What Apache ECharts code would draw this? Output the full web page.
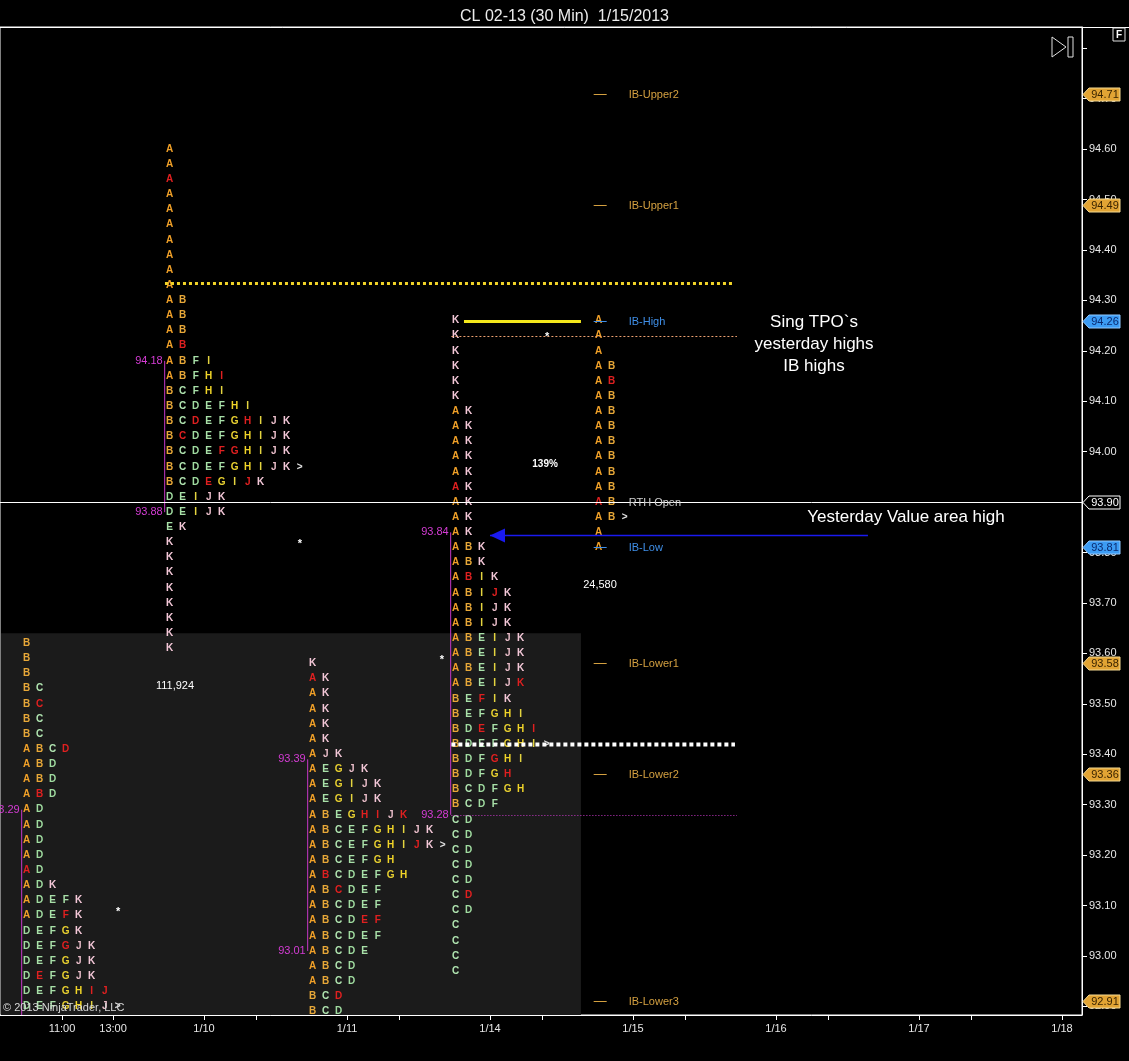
<!DOCTYPE html>
<html lang="en">
<head>
    <meta charset="UTF-8">
    <title>CL 02-13 (30 Min) 1/15/2013</title>
    <style>
        html, body { margin: 0; padding: 0; background: #000; }
    </style>
</head>
<body>
<div id="main" style="width: 1129px;height:1061px;"></div>

<script src="https://cdn.jsdelivr.net/npm/echarts@6/dist/echarts.min.js"></script>
<script>
    // x is in session (day) units, 1/10 = 0; y is price
    var xMin = -1.4266, xMax = 6.1399;
    var yMin = 92.883, yMax = 94.842;
    var tpoSize = 0.03;

    // market profiles: one string per price row, top row first. lowercase = red letter
    var sessionX = [-1.24, -0.24, 0.76, 1.76, 2.76];
    var sessionTop = [93.62, 94.60, 93.58, 94.26, 94.26];
    var profile19 = ['B', 'B', 'B', 'BC', 'Bc', 'BC', 'BC', 'ABCd', 'ABD', 'ABD', 'AbD', 'AD', 'AD', 'AD', 'AD', 'aD',
        'ADK', 'ADEFK', 'ADEfK', 'DEFGK', 'DEFgJK', 'DEFGJK', 'DeFGJK', 'DEFGHij', 'DEFGHIJ>'];
    var profile110 = ['A', 'A', 'a', 'A', 'A', 'A', 'A', 'A', 'A', 'A', 'AB', 'AB', 'AB', 'Ab', 'ABFI', 'ABFHi', 'BCFHI',
        'BCDEFHI', 'BCdEFGhIJK', 'BcDEFGHIJK', 'BCDEfgHIJK', 'BCDEFGHIJK>', 'BCDeGIjK', 'DEIJK', 'DEIJK', 'EK',
        'K', 'K', 'K', 'K', 'K', 'K', 'K', 'K'];
    var profile111 = ['K', 'aK', 'AK', 'AK', 'AK', 'AK', 'AJK', 'AEGJK', 'AEGIJK', 'AEGIJK', 'ABEGhiJk', 'ABCEFGHIJK',
        'ABCEFGHIjK>', 'ABCEFGH', 'AbCDEFGH', 'ABcDEF', 'ABCDEF', 'ABCDef', 'ABCDEF', 'ABCDE', 'ABCD', 'ABCD', 'BCd', 'BCD'];
    var profile114 = ['K', 'K', 'K', 'K', 'K', 'K', 'AK', 'AK', 'AK', 'AK', 'AK', 'aK', 'AK', 'AK', 'AK', 'ABK', 'ABK',
        'AbIK', 'ABIjK', 'ABIJK', 'ABIJK', 'ABEIJK', 'ABEIJK', 'ABEIJK', 'ABEIJk', 'BEfIK', 'BEFGHI', 'BDeFGHi',
        'BDEFGHI>', 'BDFgHI', 'BDFGh', 'BCDFGH', 'BCDF', 'CD', 'CD', 'CD', 'CD', 'CD', 'Cd', 'CD', 'C', 'C', 'C', 'C'];
    var profile115 = ['A', 'A', 'A', 'AB', 'Ab', 'AB', 'AB', 'AB', 'AB', 'AB', 'AB', 'AB', 'aB', 'AB>', 'A', 'A'];
    var profiles = [profile19, profile110, profile111, profile114, profile115];

    // value areas (high, low) per session
    var vaHigh = [93.29, 94.18, 93.39, 93.84];
    var vaLow = [yMin, 93.88, 93.01, 93.28];

    // initial balance levels of 1/15
    var ibNames = ['IB-Upper2', 'IB-Upper1', 'IB-High', 'RTH Open', 'IB-Low', 'IB-Lower1', 'IB-Lower2', 'IB-Lower3'];
    var ibPrices = [94.71, 94.49, 94.26, 93.90, 93.81, 93.58, 93.36, 92.91];
    var ibKinds = ['ib', 'ib', 'ibhl', 'open', 'ibhl', 'ib', 'ib', 'ib'];

    // reference lines
    var levelPrice = [94.335, 93.42, 94.23, 93.28, 94.26, 93.90, 93.835];
    var levelFrom = [-0.273, 1.73, 1.73, 1.73, 1.818, xMin, 2.0];
    var levelTo = [3.713, 3.713, 3.727, 3.727, 2.636, xMax, 4.643];
    var levelKind = ['yellowDot', 'whiteDot', 'peachDot', 'vaDot', 'yellowBar', 'rthOpen', 'blueArrow'];

    // overnight shading
    var shadeX = [xMin, 2.636];
    var shadeY = [93.64, yMin];

    // notes
    var noteText = ['Sing TPO`s\nyesterday highs\nIB highs', 'Yesterday Value area high', '139%', '24,580', '111,924', '*', '*', '*', '*'];
    var noteX = [4.266, 4.909, 2.385, 2.769, -0.203, 0.671, 1.664, -0.601, 2.399];
    var notePrice = [94.213, 93.870, 93.975, 93.736, 93.535, 93.817, 93.587, 93.087, 94.228];
    var noteKind = ['big', 'big', 'bold', 'small', 'small', 'star', 'star', 'star', 'star'];

    // axes
    var priceTicks = [92.9, 93.0, 93.1, 93.2, 93.3, 93.4, 93.5, 93.6, 93.7, 93.8, 93.9, 94.0, 94.1, 94.2, 94.3, 94.4, 94.5, 94.6, 94.7, 94.8];
    var priceLabels = [92.9, 93.0, 93.1, 93.2, 93.3, 93.4, 93.5, 93.6, 93.7, 93.8, 93.9, 94.0, 94.1, 94.2, 94.3, 94.4, 94.5, 94.6, 94.7];
    var timeTicks = [-0.993, -0.636, 0, 0.364, 1, 1.364, 2, 2.364, 3, 3.364, 4, 4.364, 5, 5.364, 6];
    var timeLabelPos = [-0.993, -0.636, 0, 1, 2, 3, 4, 5, 6];
    var timeLabelText = ['11:00', '13:00', '1/10', '1/11', '1/14', '1/15', '1/16', '1/17', '1/18'];

    var FONT = 'Arial, "Liberation Sans", sans-serif';
    var COL_W = 13;
    var RED = '#e02020';
    var letterColor = {
        A: '#f0a028', B: '#e8a838', C: '#b0e4b0', D: '#a0dca0', E: '#a8e0a8', F: '#a8e0a8',
        G: '#e8d030', H: '#f0d428', I: '#e4d440', J: '#e8bcc8', K: '#f4c8d8', '>': '#e0e0e0'
    };
    var tagStyle = {
        ib: {fill: '#e2a434', stroke: '#f4d890', text: '#3a2400'},
        ibhl: {fill: '#3c9cf4', stroke: '#90c8ff', text: '#0a2a70'},
        open: {fill: '#000', stroke: '#fff', text: '#fff'}
    };
    var ibColor = {ib: '#d4a040', ibhl: '#3f8fe8', open: '#d0d0d0'};

    var profileData = [];
    profiles.forEach(function (rows, s) {
        rows.forEach(function (row, r) {
            profileData.push([sessionX[s], sessionTop[s] - r * tpoSize, s, r]);
        });
    });

    var chart = echarts.init(document.getElementById('main'));
    chart.setOption({
        backgroundColor: '#000',
        animation: false,
        title: {
            text: 'CL 02-13 (30 Min)  1/15/2013',
            left: 'center',
            top: 4,
            textStyle: {color: '#ececec', fontSize: 16, fontWeight: 'normal', fontFamily: FONT}
        },
        grid: {left: 0, right: 47, top: 27, bottom: 46, show: true, borderColor: '#fff', borderWidth: 1},
        xAxis: {
            type: 'value', min: xMin, max: xMax,
            splitLine: {show: false},
            axisLine: {show: true, onZero: false, lineStyle: {color: '#fff'}},
            axisTick: {show: true, length: 5, lineStyle: {color: '#fff'}, customValues: timeTicks},
            axisLabel: {
                color: '#e8e8e8', fontSize: 11, fontFamily: FONT, margin: 8,
                customValues: timeLabelPos,
                formatter: function (v) {
                    for (var i = 0; i < timeLabelPos.length; i++) {
                        if (Math.abs(timeLabelPos[i] - v) < 1e-6) return timeLabelText[i];
                    }
                    return '';
                }
            }
        },
        yAxis: {
            type: 'value', position: 'right', min: yMin, max: yMax,
            splitLine: {show: false},
            axisLine: {show: true, onZero: false, lineStyle: {color: '#fff'}},
            axisTick: {show: true, length: 5, lineStyle: {color: '#fff'}, customValues: priceTicks},
            axisLabel: {
                color: '#e8e8e8', fontSize: 11, fontFamily: FONT, margin: 7,
                customValues: priceLabels,
                formatter: function (v) { return v.toFixed(2); }
            }
        },
        graphic: [
            {type: 'line', shape: {x1: 0, y1: 27.5, x2: 1129, y2: 27.5}, style: {stroke: '#fff', lineWidth: 1}},
            {type: 'polygon', shape: {points: [[1052, 37], [1066, 47], [1052, 57]]}, style: {fill: 'none', stroke: '#e0e0e0', lineWidth: 1}},
            {type: 'rect', shape: {x: 1068, y: 37, width: 5, height: 20}, style: {fill: 'none', stroke: '#e0e0e0', lineWidth: 1}},
            {type: 'rect', shape: {x: 1113, y: 28, width: 12, height: 13}, style: {fill: '#000', stroke: '#e0e0e0', lineWidth: 1}},
            {type: 'text', x: 1119, y: 35, style: {text: 'F', fill: '#fff', font: 'bold 10px ' + FONT, align: 'center', verticalAlign: 'middle'}},
            {type: 'text', x: 3, y: 1008, z: 100, style: {text: '\u00a9 2013 NinjaTrader, LLC', fill: '#d8d8d8', font: '11px ' + FONT, verticalAlign: 'middle'}}
        ],
        series: [
            {
                // overnight shading
                type: 'custom', z: 1, silent: true,
                data: [[shadeX[0], shadeY[0], shadeX[1], shadeY[1]]],
                renderItem: function (params, api) {
                    var a = api.coord([api.value(0), api.value(1)]);
                    var b = api.coord([api.value(2), api.value(3)]);
                    return {type: 'rect', shape: {x: a[0] + 1, y: a[1], width: b[0] - a[0] - 1, height: b[1] - a[1]}, style: {fill: '#1b1b1b'}};
                }
            },
            {
                // value area lines and labels
                type: 'custom', z: 3, silent: true,
                data: vaHigh.map(function (h, s) { return [sessionX[s], h, vaLow[s], s]; }),
                renderItem: function (params, api) {
                    var top = api.coord([api.value(0), api.value(1)]);
                    var bot = api.coord([api.value(0), api.value(2)]);
                    var x = top[0] - 5;
                    var kids = [{type: 'line', shape: {x1: x, y1: top[1], x2: x, y2: bot[1]}, style: {stroke: '#c838c8', lineWidth: 1}}];
                    [api.value(1), api.value(2)].forEach(function (v, k) {
                        if (v <= yMin + 0.01) return;
                        kids.push({type: 'text', x: x - 2, y: k ? bot[1] : top[1],
                            style: {text: v.toFixed(2), fill: '#d43cd4', font: '11px ' + FONT, align: 'right', verticalAlign: 'middle'}});
                    });
                    return {type: 'group', children: kids};
                }
            },
            {
                // TPO letters
                type: 'custom', z: 4, silent: true,
                data: profileData,
                renderItem: function (params, api) {
                    var row = profiles[api.value(2)][api.value(3)];
                    var p = api.coord([api.value(0), api.value(1)]);
                    var kids = [];
                    for (var i = 0; i < row.length; i++) {
                        var ch = row.charAt(i), up = ch.toUpperCase();
                        kids.push({type: 'text', x: p[0] + i * COL_W, y: p[1],
                            style: {text: up, fill: ch !== up ? RED : letterColor[up], font: 'bold 10px ' + FONT, align: 'center', verticalAlign: 'middle'}});
                    }
                    return {type: 'group', children: kids};
                }
            },
            {
                // reference lines
                type: 'custom', z: 5, silent: true,
                data: levelPrice.map(function (p, i) { return [levelFrom[i], p, levelTo[i], i]; }),
                renderItem: function (params, api) {
                    var a = api.coord([api.value(0), api.value(1)]);
                    var b = api.coord([api.value(2), api.value(1)]);
                    var kind = levelKind[api.value(3)];
                    var y = Math.round(a[1]) + 0.5;
                    var st = {
                        yellowDot: {stroke: '#f2d428', lineWidth: 3, lineDash: [3, 3]},
                        whiteDot: {stroke: '#ffffff', lineWidth: 4, lineDash: [4, 3]},
                        peachDot: {stroke: '#eca070', lineWidth: 1, lineDash: [2, 2]},
                        vaDot: {stroke: '#c838c8', lineWidth: 1, lineDash: [1, 2]},
                        yellowBar: {stroke: '#f4e81c', lineWidth: 3},
                        rthOpen: {stroke: '#ffffff', lineWidth: 1},
                        blueArrow: {stroke: '#1a1af0', lineWidth: 1.5}
                    }[kind];
                    var kids = [{type: 'line', shape: {x1: a[0], y1: y, x2: b[0], y2: y}, style: st}];
                    if (kind === 'blueArrow') {
                        kids.push({type: 'polygon', shape: {points: [[a[0], y], [a[0] + 15, y - 7], [a[0] + 15, y + 7]]}, style: {fill: '#1a1af0'}});
                    }
                    return {type: 'group', children: kids};
                }
            },
            {
                // IB levels of the current session
                type: 'custom', z: 5, silent: true,
                data: ibPrices.map(function (p, i) { return [sessionX[4], p, i]; }),
                renderItem: function (params, api) {
                    var i = api.value(2);
                    var p = api.coord([api.value(0), api.value(1)]);
                    var c = ibColor[ibKinds[i]];
                    var y = Math.round(p[1]) + 0.5;
                    var kids = [];
                    if (ibKinds[i] !== 'open') {
                        kids.push({type: 'line', shape: {x1: p[0] - 5, y1: y, x2: p[0] + 8, y2: y}, style: {stroke: c, lineWidth: 1}});
                    }
                    kids.push({type: 'text', x: p[0] + 30, y: y,
                        style: {text: ibNames[i], fill: c, font: '11px ' + FONT, verticalAlign: 'middle'}});
                    return {type: 'group', children: kids};
                }
            },
            {
                // notes
                type: 'custom', z: 6, silent: true,
                data: noteText.map(function (t, i) { return [noteX[i], notePrice[i], i]; }),
                renderItem: function (params, api) {
                    var i = api.value(2);
                    var p = api.coord([api.value(0), api.value(1)]);
                    var font = {big: '17px ', bold: 'bold 10px ', small: '11px ', star: 'bold 11px '}[noteKind[i]] + FONT;
                    return {type: 'text', x: p[0], y: p[1],
                        style: {text: noteText[i], fill: '#fff', font: font, align: 'center', verticalAlign: 'middle', lineHeight: 22}};
                }
            },
            {
                // price tags on the axis
                type: 'custom', z: 10, silent: true,
                data: ibPrices.map(function (p, i) { return [xMax, p, i]; }),
                renderItem: function (params, api) {
                    var i = api.value(2);
                    var p = api.coord([api.value(0), api.value(1)]);
                    var x = p[0], y = Math.round(p[1]) + 0.5;
                    var ts = tagStyle[ibKinds[i]];
                    return {type: 'group', children: [
                        {type: 'polygon', shape: {points: [[x + 1, y], [x + 7, y - 6.5], [x + 38, y - 6.5], [x + 38, y + 6.5], [x + 7, y + 6.5]]},
                            style: {fill: ts.fill, stroke: ts.stroke, lineWidth: 1}},
                        {type: 'text', x: x + 23, y: y,
                            style: {text: ibPrices[i].toFixed(2), fill: ts.text, font: '11px ' + FONT, align: 'center', verticalAlign: 'middle'}}
                    ]};
                }
            }
        ]
    });
</script>
</body>
</html>
